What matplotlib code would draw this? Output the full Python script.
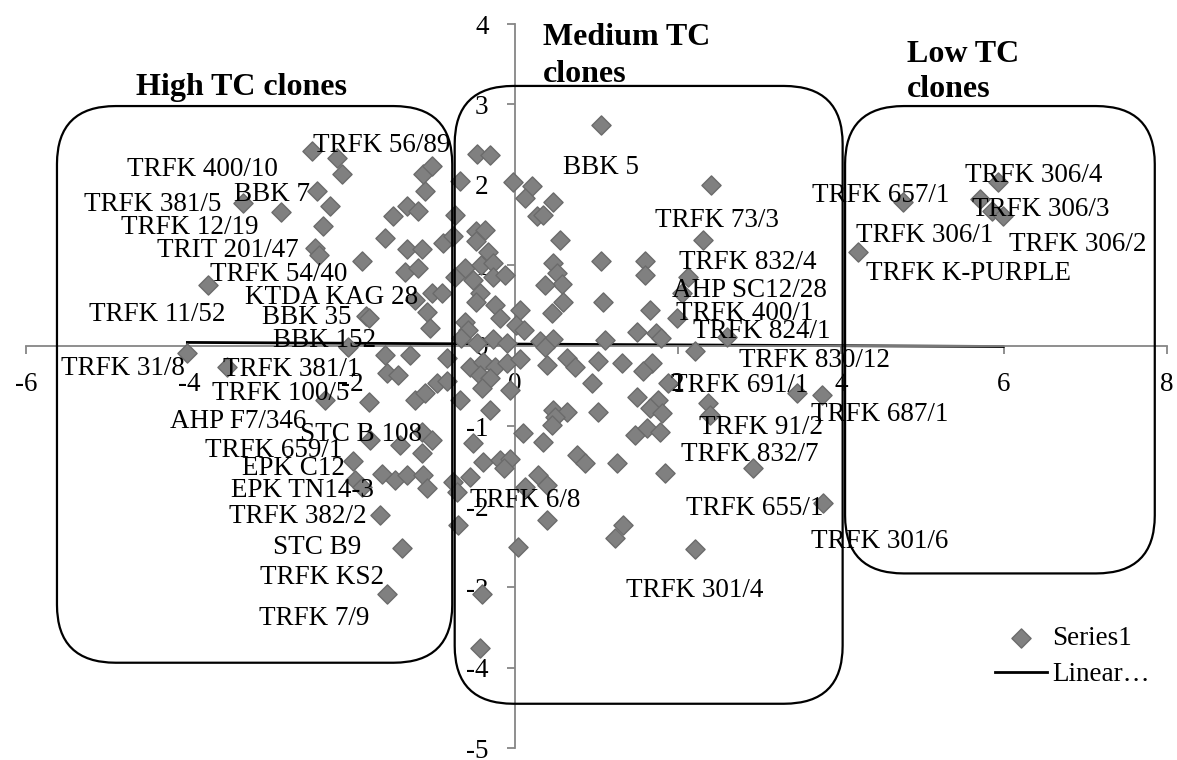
import numpy as np
import matplotlib
matplotlib.use("Agg")
import matplotlib.pyplot as plt
from matplotlib.patches import FancyBboxPatch

plt.rcParams['font.family'] = ['Liberation Serif', 'DejaVu Serif']
plt.rcParams['axes.unicode_minus'] = False

# PCA scores of the tea clones (PC1, PC2)
pc1 = [
    # high TC group
    -3.34, -2.87, -2.49, -2.18, -2.12, -2.43, -2.27, -2.36, -2.45, -2.40,
    -3.77, -1.88, -1.83, -1.79, -2.05, -4.02, -3.53, -2.33, -1.79, -1.60,
    -1.50, -1.33, -1.19, -1.10, -1.13, -1.02, -0.67, -0.74, -0.88, -0.76,
    -1.33, -1.14, -1.35, -1.19, -1.02, -0.90, -1.23, -1.08, -1.04, -0.74,
    -1.60, -1.29, -0.83, -1.57, -1.44, -1.23, -1.10, -0.96, -0.83, -1.78,
    -1.41, -1.14, -1.02, -1.14, -1.99, -1.63, -1.47, -1.33, -1.13, -1.08,
    -1.96, -1.88, -1.66, -1.39, -1.57, -0.76, -0.71, -0.70,
    # around the origin
    -0.47, -0.31, -0.02, 0.21, 0.12, 0.47, 0.27, 0.34, 0.55, -0.48,
    -0.37, -0.48, -0.33, -0.61, -0.52, -0.42, -0.27, -0.27, -0.12, -0.43,
    -0.48, -0.25, -0.18, 0.06, -0.61, -0.58, 0.01, 0.11, -0.66, -0.47,
    -0.27, -0.10,
    # medium TC group
    1.06, 2.40, 2.31, 0.47, 0.52, 0.58, 0.37, 1.06, 1.60, 1.60,
    2.12, 2.05, 0.59, 0.45, 1.08, 1.66, 1.99, 2.60, 0.31, 0.47,
    0.37, 1.10, 1.50, 1.73, 1.79, 2.21, 0.39, 0.64, 0.74, 1.02,
    1.31, 1.68, 1.57, -0.55, -0.39, -0.25, -0.43, -0.31, -0.10, 0.06,
    -0.67, -0.40, -0.06, 0.94, 1.50, 1.75, 1.88, -0.31, 0.47, 0.64,
    0.49, 1.02, 1.66, 1.80, 2.37, 2.39, 0.45, 0.10, 0.34, -0.52,
    1.47, 1.62, 1.78, 0.76, 0.86, 1.25, 1.84, 2.92, -0.39, -0.18,
    -0.06, -0.13, -0.55, 0.28, 0.39, 0.12, 0.39, 1.33, 1.23, 2.21,
    0.04, -0.40, -0.43, 3.46, 3.77, 3.78,
    # low TC group
    4.21, 4.76, 5.93, 5.71, 5.85, 5.99,
]
pc2 = [
    1.78, 1.66, 2.42, 2.34, 2.13, 1.93, 1.74, 1.49, 1.21, 1.13,
    0.76, 1.06, 0.37, 0.35, -0.01, -0.09, -0.27, -0.67, -0.70, 1.34,
    1.61, 1.74, 1.67, 1.92, 2.14, 2.24, 2.05, 1.62, 1.28, 1.37,
    1.20, 1.20, 0.92, 0.97, 0.66, 0.66, 0.57, 0.42, 0.22, 0.86,
    -0.11, -0.11, -0.15, -0.34, -0.36, -0.67, -0.59, -0.46, -0.44, -1.17,
    -1.23, -1.07, -1.17, -1.33, -1.43, -1.59, -1.67, -1.61, -1.61, -1.77,
    -1.67, -1.76, -2.10, -2.52, -3.08, -1.69, -1.82, -2.23,
    2.38, 2.37, 2.03, 1.98, 1.84, 1.79, 1.61, 1.63, 1.32, 1.43,
    1.44, 1.30, 1.16, 0.97, 0.82, 1.00, 1.03, 0.85, 0.88, 0.66,
    0.54, 0.51, 0.35, 0.45, 0.30, 0.19, 0.26, 0.19, 0.10, 0.04,
    0.09, 0.04,
    2.74, 2.00, 1.32, 1.03, 0.91, 0.77, 0.76, 1.05, 1.05, 0.88,
    0.86, 0.66, 0.54, 0.41, 0.54, 0.45, 0.35, 0.11, 0.06, 0.09,
    -0.01, 0.07, 0.17, 0.16, 0.10, -0.07, -0.24, -0.15, -0.26, -0.19,
    -0.21, -0.21, -0.31, -0.26, -0.20, -0.27, -0.36, -0.40, -0.21, -0.17,
    -0.68, -0.52, -0.55, -0.46, -0.64, -0.67, -0.46, -0.80, -0.80, -0.82,
    -0.88, -0.82, -0.77, -0.83, -0.71, -0.86, -0.98, -1.08, -1.20, -1.21,
    -1.11, -1.02, -1.07, -1.36, -1.46, -1.46, -1.58, -1.52, -1.44, -1.42,
    -1.41, -1.52, -1.63, -1.61, -1.73, -1.76, -2.17, -2.23, -2.39, -2.53,
    -2.50, -3.08, -3.76, -0.59, -0.61, -1.96,
    1.17, 1.79, 2.03, 1.82, 1.67, 1.61,
]

# clone names with the spot where each name is written
clone_labels = [
    ("TRFK 56/89", -1.64, 2.53), ("TRFK 400/10", -3.83, 2.23),
    ("BBK 7", -2.98, 1.92), ("TRFK 381/5", -4.44, 1.79),
    ("TRFK 12/19", -3.99, 1.51), ("TRIT 201/47", -3.52, 1.22),
    ("TRFK 54/40", -2.90, 0.92), ("KTDA KAG 28", -2.25, 0.64),
    ("BBK 35", -2.56, 0.39), ("TRFK 11/52", -4.39, 0.42),
    ("BBK 152", -2.34, 0.10), ("TRFK 31/8", -4.81, -0.24),
    ("TRFK 381/1", -2.74, -0.26), ("TRFK 100/5", -2.88, -0.55),
    ("AHP F7/346", -3.40, -0.90), ("STC B 108", -1.89, -1.07),
    ("TRFK 659/1", -2.96, -1.27), ("EPK C12", -2.72, -1.49),
    ("EPK TN14-3", -2.61, -1.76), ("TRFK 382/2", -2.67, -2.09),
    ("STC B9", -2.43, -2.47), ("TRFK KS2", -2.37, -2.84),
    ("TRFK 7/9", -2.47, -3.35), ("BBK 5", 1.06, 2.25),
    ("TRFK 73/3", 2.48, 1.59), ("TRFK 832/4", 2.85, 1.07),
    ("AHP SC12/28", 2.88, 0.72), ("TRFK 400/1", 2.82, 0.44),
    ("TRFK 824/1", 3.03, 0.21), ("TRFK 830/12", 3.68, -0.15),
    ("TRFK 691/1", 2.76, -0.46), ("TRFK 687/1", 4.47, -0.82),
    ("TRFK 91/2", 3.02, -0.98), ("TRFK 832/7", 2.88, -1.32),
    ("TRFK 655/1", 2.94, -1.98), ("TRFK 301/6", 4.48, -2.39),
    ("TRFK 301/4", 2.21, -3.00), ("TRFK 6/8", 0.13, -1.89),
    ("TRFK 657/1", 4.49, 1.91), ("TRFK 306/4", 6.36, 2.15),
    ("TRFK 306/3", 6.45, 1.73), ("TRFK 306/2", 6.91, 1.30),
    ("TRFK 306/1", 5.03, 1.41), ("TRFK K-PURPLE", 5.56, 0.93),
]

x = np.array(pc1)
y = np.array(pc2)

W, H = 1177, 760
fig = plt.figure(figsize=(W / 100, H / 100), dpi=100)
ax = fig.add_axes([26 / W, 12 / H, 1141 / W, 724 / H])
ax.set_xlim(-6, 8)
ax.set_ylim(-5, 4)

axis_grey = '#868686'
for side in ('top', 'right'):
    ax.spines[side].set_visible(False)
for side in ('left', 'bottom'):
    ax.spines[side].set_position(('data', 0))
    ax.spines[side].set_color(axis_grey)
    ax.spines[side].set_linewidth(1.3)
ax.set_xticks(np.arange(-6, 9, 2))
ax.set_yticks(np.arange(-5, 5, 1))
ax.tick_params(axis='both', direction='out', length=6, width=1.3,
               color=axis_grey, labelsize=19.5, labelcolor='black')
ax.tick_params(axis='x', pad=13)
ax.tick_params(axis='y', pad=13)

ax.scatter(x, y, marker='D', s=95, facecolor='#808080',
           edgecolor='#6b6b6b', linewidth=1, zorder=3, label='Series1')

# linear trendline over the range of PC1
slope, icept = np.polyfit(x, y, 1)
xs = np.array([x.min(), x.max()])
ax.plot(xs, slope * xs + icept, color='black', lw=2, zorder=2,
        label='Linear\u2026')

for name, lx, ly in clone_labels:
    ax.text(lx, ly, name, fontsize=19.5, ha='center', va='center_baseline',
            zorder=4)

# rounded frames around the three groups
groups = [(-5.62, -3.94, 4.85, 6.92),
          (-0.74, -4.45, 4.76, 7.68),
          (4.05, -2.83, 3.80, 5.81)]
for gx, gy, gw, gh in groups:
    ax.add_patch(FancyBboxPatch((gx, gy), gw, gh,
                                boxstyle='round,pad=0,rounding_size=0.72',
                                fill=False, ec='black', lw=1.6, zorder=5,
                                clip_on=False))

bold = dict(fontsize=23, fontweight='bold', va='baseline')
fig.text(242 / W, 1 - 95 / H, 'High TC clones', ha='center', **bold)
fig.text(543 / W, 1 - 45 / H, 'Medium TC', ha='left', **bold)
fig.text(543 / W, 1 - 82 / H, 'clones', ha='left', **bold)
fig.text(907 / W, 1 - 62 / H, 'Low TC', ha='left', **bold)
fig.text(907 / W, 1 - 97 / H, 'clones', ha='left', **bold)

ax.legend(loc='upper left', bbox_to_anchor=(995 / W, 1 - 626 / H),
          bbox_transform=fig.transFigure, frameon=False, fontsize=19.5,
          scatterpoints=1, handlelength=1.92, handletextpad=0.2,
          borderpad=0, borderaxespad=0, labelspacing=0.42)

fig.savefig('out.png', dpi=100)
